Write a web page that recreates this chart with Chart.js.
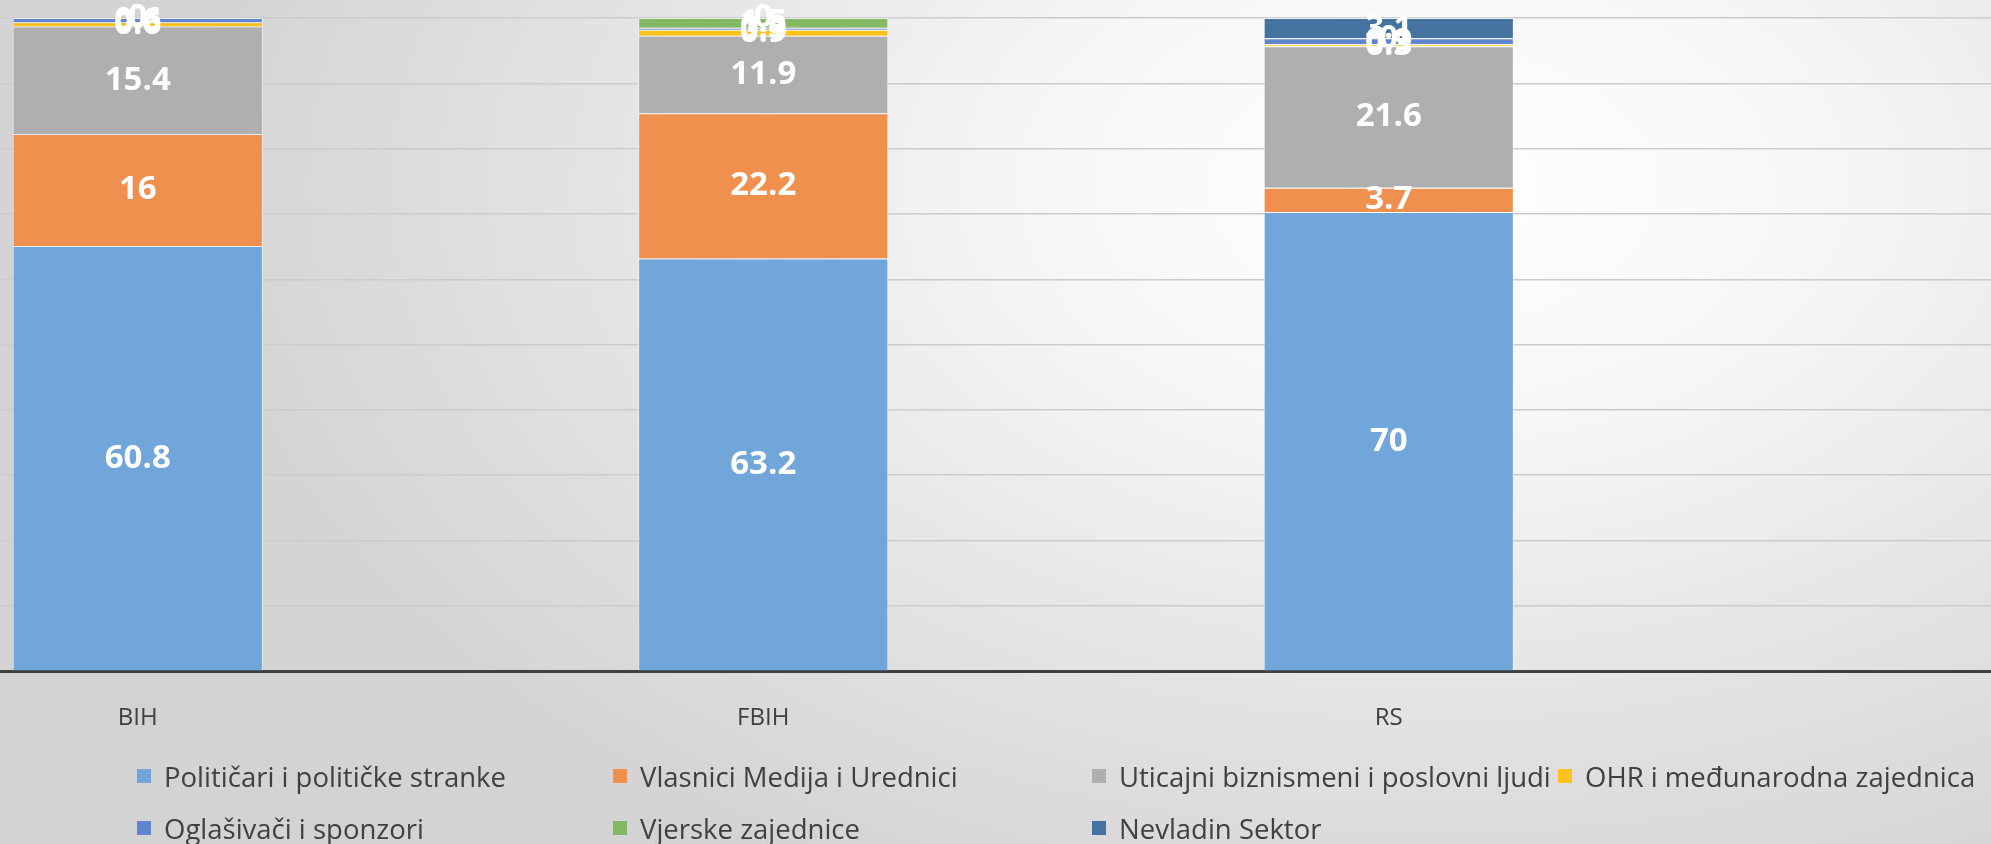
<!DOCTYPE html>
<html>
<head>
<meta charset="utf-8">
<script src="https://cdn.jsdelivr.net/npm/chart.js@4.4.1/dist/chart.umd.min.js"></script>
<style>
  html, body { margin: 0; padding: 0; }
  body {
    width: 1991px; height: 844px; overflow: hidden; position: relative;
    background: radial-gradient(ellipse 75% 110% at 72% 22%, #ffffff 0%, #f7f7f7 25%, #e4e4e4 55%, #d3d3d3 85%);
    font-family: "Open Sans", sans-serif;
  }
  #wrap { position: absolute; left: -175px; top: 0; width: 2502px; height: 758px; }
  #legend { position: absolute; left: 0; top: 750px; width: 1991px; height: 104px; }
  .item { position: absolute; height: 52px; display: flex; align-items: center; font-size: 27.5px; color: #404040; white-space: nowrap; }
  .box { width: 14px; height: 14px; margin-right: 13px; flex: none; }
</style>
</head>
<body>
<div id="wrap"><canvas id="chart" width="2502" height="758"></canvas></div>
<div id="legend"></div>
<script>
document.addEventListener('DOMContentLoaded', () => {
  // regions, last slot is left empty (the plot area goes on past RS)
  const regions = ['BIH', 'FBIH', 'RS', ''];

  const seriesNames = [
    'Političari i političke stranke',
    'Vlasnici Medija i Urednici',
    'Uticajni biznismeni i poslovni ljudi',
    'OHR i međunarodna zajednica',
    'Oglašivači i sponzori',
    'Vjerske zajednice',
    'Nevladin Sektor'
  ];
  const seriesColors = ['#70a6d9', '#f0904e', '#afafaf', '#ffc21a', '#5f86cf', '#85b862', '#44739f'];

  const politicari = [60.8, 63.2, 70];
  const vlasnici = [16, 22.2, 3.7];
  const biznismeni = [15.4, 11.9, 21.6];
  const ohr = [0.6, 0.9, 0.3];
  const oglasivaci = [0.6, 0.3, 0.9];
  const vjerske = [0, 1.5, 0];
  const nevladin = [0, 0, 3.1];

  const series = [politicari, vlasnici, biznismeni, ohr, oglasivaci, vjerske, nevladin];

  // 100% stacked: share of each region total
  const totals = regions.slice(0, 3).map((r, i) => series.reduce((s, arr) => s + arr[i], 0));

  const datasets = series.map((arr, k) => ({
    label: seriesNames[k],
    data: arr.map((v, i) => v / totals[i] * 100),
    raw: arr,
    backgroundColor: seriesColors[k],
    borderColor: 'rgba(255,255,255,0.55)',
    borderWidth: 1,
    barPercentage: 0.4,
    categoryPercentage: 1.0
  }));

  const valueLabels = {
    id: 'valueLabels',
    afterDatasetsDraw(chart) {
      const ctx = chart.ctx;
      ctx.save();
      ctx.font = 'bold 33px "Open Sans"';
      ctx.fillStyle = '#ffffff';
      ctx.textAlign = 'center';
      ctx.textBaseline = 'middle';
      chart.data.datasets.forEach((ds, k) => {
        chart.getDatasetMeta(k).data.forEach((el, i) => {
          if (ds.raw[i] === undefined) return;
          ctx.fillText(String(ds.raw[i]), el.x, (el.y + el.base) / 2);
        });
      });
      ctx.restore();
    }
  };

  new Chart(document.getElementById('chart'), {
    type: 'bar',
    data: { labels: regions, datasets },
    options: {
      responsive: false,
      animation: false,
      devicePixelRatio: 1,
      layout: { padding: { top: 18, bottom: 0, left: 0, right: 0 } },
      plugins: { legend: { display: false }, tooltip: { enabled: false } },
      scales: {
        x: {
          stacked: true,
          grid: { display: false },
          border: { color: '#404040', width: 3 },
          ticks: { color: '#404040', font: { family: 'Open Sans', size: 24 }, padding: 25 }
        },
        y: {
          stacked: true,
          min: 0,
          max: 100,
          ticks: { display: false, stepSize: 10 },
          border: { display: false },
          grid: { color: '#cccccc', lineWidth: 1.5, drawTicks: false }
        }
      }
    },
    plugins: [valueLabels]
  });

  // legend laid out in Excel-like columns, 4 per row
  const legend = document.getElementById('legend');
  const colX = [137, 613, 1092, 1558];
  seriesNames.forEach((name, k) => {
    const item = document.createElement('div');
    item.className = 'item';
    item.style.left = colX[k % 4] + 'px';
    item.style.top = Math.floor(k / 4) * 52 + 'px';
    item.innerHTML = `<span class="box" style="background:${seriesColors[k]}"></span>${name}`;
    legend.appendChild(item);
  });
});
</script>
</body>
</html>
